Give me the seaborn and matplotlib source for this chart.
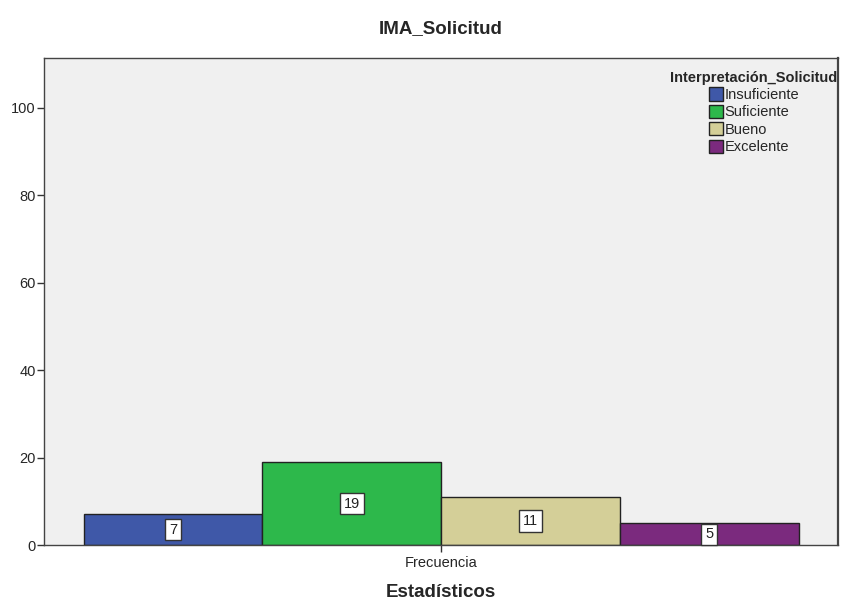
import pandas as pd
import matplotlib.pyplot as plt
import seaborn as sns

# Data
categories = ['Insuficiente', 'Suficiente', 'Bueno', 'Excelente']
counts = [7, 19, 11, 5]
colors = ['#3f58a8', '#2db84b', '#d4cf98', '#7b2a7e']

df = pd.DataFrame({'stat': ['Frecuencia'] * len(categories),
                   'Interpretación_Solicitud': categories,
                   'count': counts})

sns.set_style("white")
plt.rcParams['font.family'] = ['Liberation Sans', 'DejaVu Sans']

fig, ax = plt.subplots(figsize=(8.45, 6.03), dpi=100)
fig.subplots_adjust(left=0.052, right=0.992, top=0.904, bottom=0.096)

sns.barplot(data=df, x='stat', y='count', hue='Interpretación_Solicitud',
            hue_order=categories, palette=colors, width=0.9, dodge=True,
            edgecolor='#222222', linewidth=1, saturation=1, ax=ax)

ax.set_facecolor('#f0f0f0')
ax.set_xlim(-0.5, 0.5)
ax.set_ylim(0, 111.4)
ax.set_yticks([0, 20, 40, 60, 80, 100])
ax.tick_params(axis='both', bottom=True, left=True, length=5, width=1,
               color='#333333', labelsize=10.5, direction='out')
ax.tick_params(axis='y', pad=1)
ax.tick_params(axis='x', pad=3)
for s in ax.spines.values():
    s.set_color('#444444')
    s.set_linewidth(1)
ax.spines['right'].set_linewidth(1.6)

# Value labels in white boxes
for cont in ax.containers:
    for bar in cont:
        h = bar.get_height()
        ax.text(bar.get_x() + bar.get_width() / 2, h / 2, f"{int(h)}",
                ha='center', va='center', fontsize=10.5, color='#222222',
                bbox=dict(boxstyle='square,pad=0.25', fc='white', ec='#333333', lw=1))

ax.set_title('IMA_Solicitud', fontsize=13.5, fontweight='bold', pad=18)
ax.set_xlabel('Estadísticos', fontsize=13.5, fontweight='bold', labelpad=10)
ax.set_ylabel('')

handles, labels = ax.get_legend_handles_labels()
leg = ax.legend(handles, labels, title='Interpretación_Solicitud', loc='upper right',
                bbox_to_anchor=(1.012, 0.995), frameon=False, fontsize=10.5,
                title_fontproperties={'weight': 'bold', 'size': 10.5},
                handlelength=1.0, handleheight=1.0, handletextpad=0.1,
                labelspacing=0.2, borderpad=0.2)
leg._legend_box.align = 'center'

plt.savefig('out.png', dpi=100)
